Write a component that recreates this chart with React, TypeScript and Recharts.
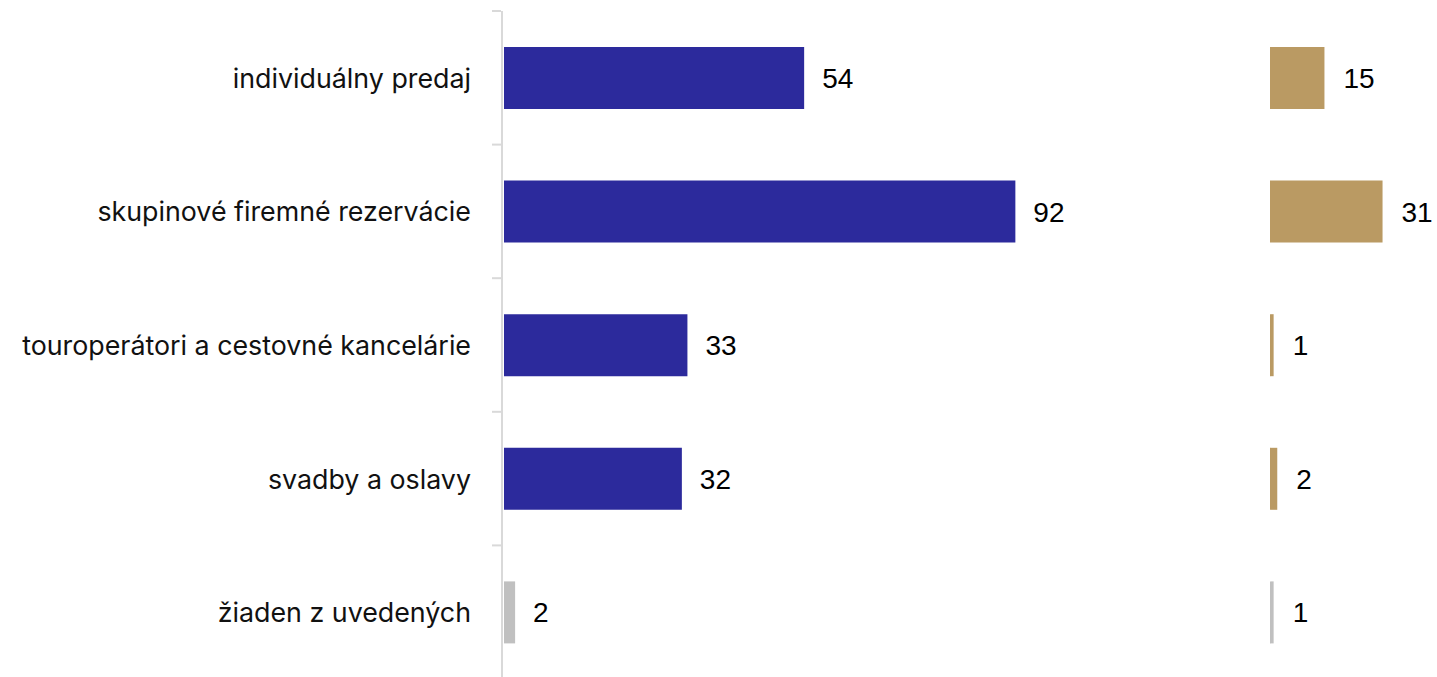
import React from "react";
import { BarChart, Bar, XAxis, YAxis, LabelList, Cell } from "recharts";

const categories = [
  "individuálny predaj",
  "skupinové firemné rezervácie",
  "touroperátori a cestovné kancelárie",
  "svadby a oslavy",
  "žiaden z uvedených",
];
const leftValues = [54, 92, 33, 32, 2];
const rightValues = [15, 31, 1, 2, 1];

const BLUE = "#2C2A9C";
const TAN = "#BA9A63";
const GRAY = "#C0C0C0";
const leftColors = [BLUE, BLUE, BLUE, BLUE, GRAY];
const rightColors = [TAN, TAN, TAN, TAN, GRAY];

const leftData = categories.map((c, i) => ({ name: c, value: leftValues[i] }));
const rightData = categories.map((c, i) => ({ name: c, value: rightValues[i] }));

const CHART_H = 680;
const TOP = 11;
const BOTTOM = 1;
const AXIS_X = 502;
const BAND = (CHART_H - TOP - BOTTOM) / categories.length;

const CategoryTick = (props: any) => {
  const { y, payload } = props;
  return (
    <g>
      <line x1={AXIS_X - 10} x2={AXIS_X - 1} y1={y - BAND / 2} y2={y - BAND / 2} stroke="#D9D9D9" strokeWidth={2} />
      <text
        x={AXIS_X - 31}
        y={y}
        textAnchor="end"
        dominantBaseline="central"
        fontFamily="Inter"
        fontSize={26.8}
        fill="#111"
      >
        {payload.value}
      </text>
    </g>
  );
};

const labelStyle = { fontFamily: "'Liberation Sans', Arial", fontSize: 28, fill: "#000" };

export default function App() {
  return (
    <div style={{ position: "absolute", left: 0, top: 0, width: 1437, height: 677, overflow: "hidden", background: "#fff" }}>
      <div style={{ position: "absolute", left: 0, top: 0 }}>
        <BarChart
          width={1171}
          height={CHART_H}
          data={leftData}
          layout="vertical"
          margin={{ top: TOP, right: 0, bottom: BOTTOM, left: 0 }}
        >
          <XAxis type="number" domain={[0, 120]} hide padding={{ left: 2, right: 0 }} />
          <YAxis
            type="category"
            dataKey="name"
            width={AXIS_X}
            axisLine={{ stroke: "#D9D9D9", strokeWidth: 2 }}
            tickLine={false}
            tick={<CategoryTick />}
            interval={0}
          />
          <Bar dataKey="value" barSize={62} isAnimationActive={false}>
            {leftData.map((d, i) => (
              <Cell key={d.name} fill={leftColors[i]} />
            ))}
            <LabelList dataKey="value" position="right" offset={18} style={labelStyle} />
          </Bar>
        </BarChart>
      </div>
      <div style={{ position: "absolute", left: 1270, top: 0 }}>
        <BarChart
          width={167}
          height={CHART_H}
          data={rightData}
          layout="vertical"
          margin={{ top: TOP, right: 0, bottom: BOTTOM, left: 0 }}
        >
          <XAxis type="number" domain={[0, 46]} hide />
          <YAxis type="category" dataKey="name" hide />
          <Bar dataKey="value" barSize={62} isAnimationActive={false}>
            {rightData.map((d, i) => (
              <Cell key={d.name} fill={rightColors[i]} />
            ))}
            <LabelList dataKey="value" position="right" offset={19} style={labelStyle} />
          </Bar>
        </BarChart>
      </div>
    </div>
  );
}
